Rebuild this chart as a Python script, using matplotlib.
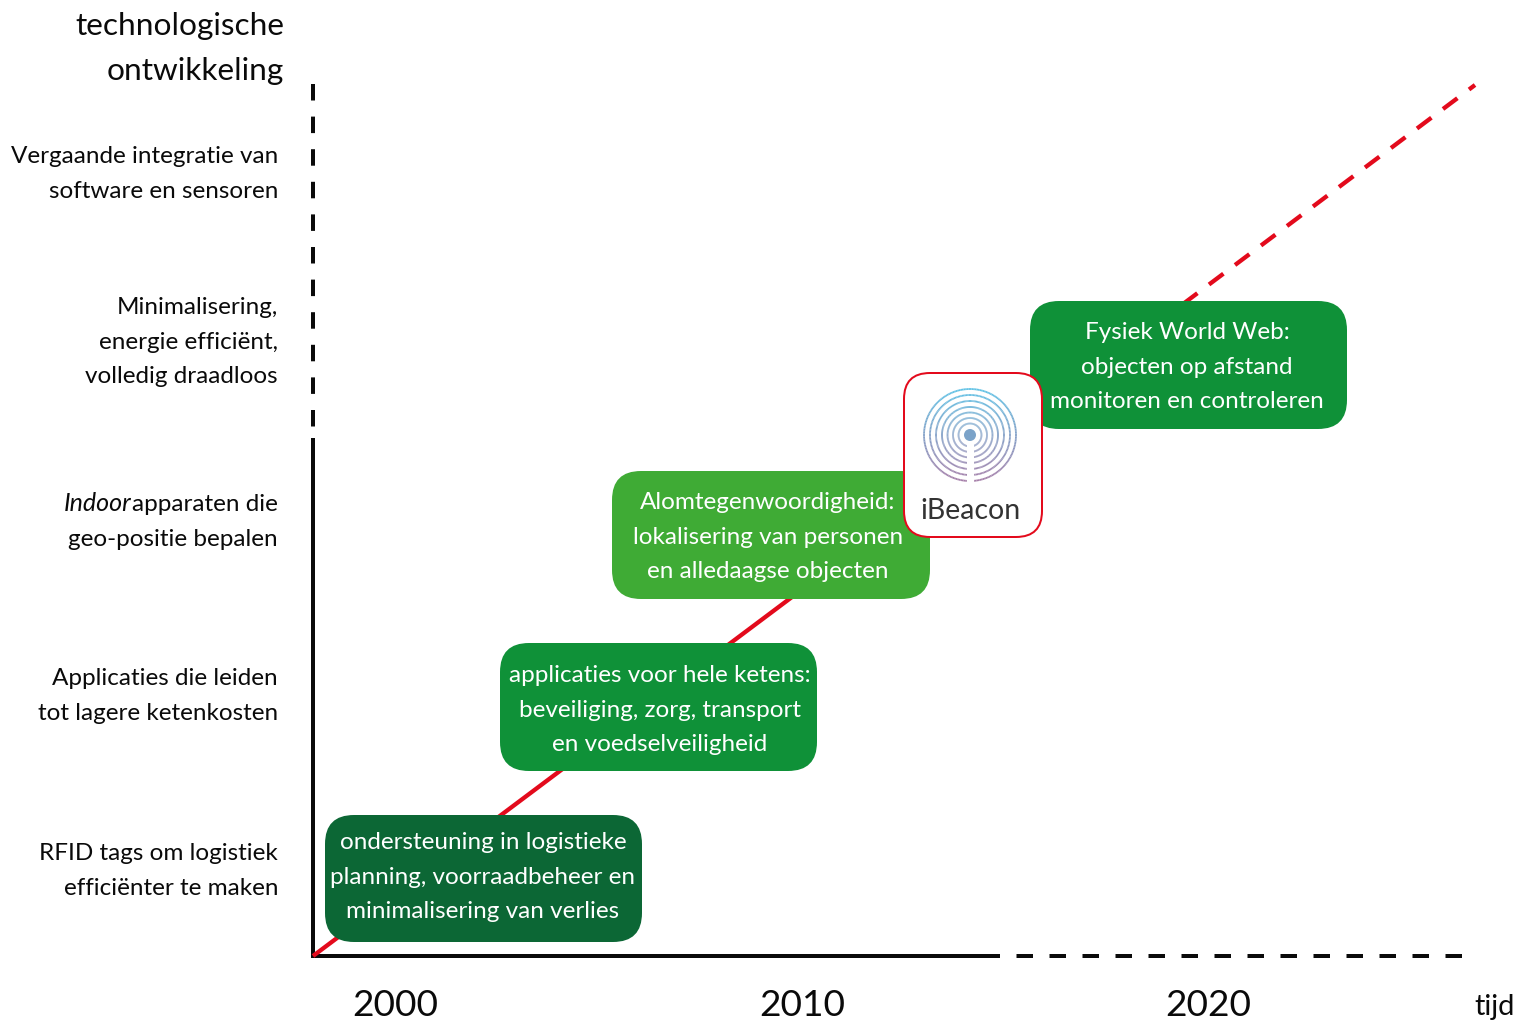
"""
Technologische ontwikkeling roadmap (RFID to Physical Web).
"""
import numpy as np
import matplotlib
matplotlib.use('Agg')
import matplotlib.pyplot as plt
from matplotlib.collections import LineCollection
from matplotlib.colors import to_rgb
from matplotlib.patches import Circle, FancyBboxPatch, Rectangle

plt.rcParams['font.family'] = ['Lato', 'DejaVu Sans']
plt.rcParams['lines.scale_dashes'] = False

W, H = 1519, 1021
PX = 0.72  # points per pixel at dpi 100

# left hand labels, right aligned: first baseline and lines
level_baselines = [163, 314, 511, 685, 860]
level_labels = [
    ['Vergaande integratie van', 'software en sensoren'],
    ['Minimalisering,', 'energie efficiënt,', 'volledig draadloos'],
    ['apparaten die', 'geo-positie bepalen'],
    ['Applicaties die leiden', 'tot lagere ketenkosten'],
    ['RFID tags om logistiek', 'efficiënter te maken'],
]

# green boxes: left, top, right, bottom
box_edges = [
    (325, 815, 642, 942),
    (500, 643, 817, 771),
    (612, 471, 930, 599),
    (1030, 301, 1347, 429),
]
box_colors = ['#0c6735', '#0f9138', '#3fab35', '#0f9138']
box_texts = [
    ['ondersteuning in logistieke', 'planning, voorraadbeheer en', 'minimalisering van verlies'],
    ['applicaties voor hele ketens:', 'beveiliging, zorg, transport', 'en voedselveiligheid'],
    ['Alomtegenwoordigheid:', 'lokalisering van personen', 'en alledaagse objecten'],
    ['Fysiek World Web:', 'objecten op afstand', 'monitoren en controleren'],
]
box_text_x = [483, 660, 768, 1187]
box_text_base = [849, 682, 509, 339]

years = ['2000', '2010', '2020']
year_x = [395, 802, 1208]

# axes and trend line, in picture pixels
origin = (313, 956)
y_solid_end, y_dash_end = 438, 84
x_solid_end, x_dash_end = 990, 1462
trend_solid_end = (800, 591)
trend_start_dash = (1183, 304)
trend_end = (1475, 85)

ring_radii = [46, 40, 34, 28, 22.5, 17, 11.5]

fig = plt.figure(figsize=(W / 100, H / 100), dpi=100)
ax = fig.add_axes([0, 0, 1, 1])
ax.set_xlim(0, W)
ax.set_ylim(H, 0)
ax.axis('off')

BLACK = '#0a0a0a'
RED = '#e30a1c'

# axes, dashed parts drawn from their outer end so they start on a dash
ax.plot([origin[0], origin[0]], [origin[1] + 2, y_solid_end], color=BLACK, lw=4 * PX, solid_capstyle='butt')
ax.plot([origin[0], origin[0]], [y_dash_end, y_solid_end], color=BLACK, lw=4 * PX,
        linestyle=(0, (16.5 * PX, 16.1 * PX)), dash_capstyle='butt')
ax.plot([origin[0], x_solid_end], [origin[1], origin[1]], color=BLACK, lw=4 * PX, solid_capstyle='butt')
ax.plot([x_dash_end, x_solid_end], [origin[1], origin[1]], color=BLACK, lw=4 * PX,
        linestyle=(0, (16.5 * PX, 16.5 * PX)), dash_capstyle='butt')

# trend line
ax.plot([origin[0], trend_solid_end[0]], [origin[1], trend_solid_end[1]], color=RED, lw=4.3 * PX,
        solid_capstyle='butt')
ax.plot([trend_start_dash[0], trend_end[0]], [trend_start_dash[1], trend_end[1]], color=RED, lw=4.3 * PX,
        linestyle=(0, (18 * PX, 14.5 * PX)), dash_capstyle='butt')

# green boxes
for (x0, y0, x1, y1), color, lines, tx, tb in zip(box_edges, box_colors, box_texts, box_text_x, box_text_base):
    ax.add_patch(FancyBboxPatch((x0, y0), x1 - x0, y1 - y0, boxstyle='round,pad=0,rounding_size=29',
                                fc=color, ec='none', zorder=3))
    for i, line in enumerate(lines):
        ax.text(tx, tb + i * 34.5, line, color='white', fontsize=24.2 * PX,
                ha='center', va='baseline', zorder=4)

# iBeacon tile
ax.add_patch(FancyBboxPatch((904, 373), 138, 164, boxstyle='round,pad=0,rounding_size=26',
                            fc='white', ec=RED, lw=2 * PX, zorder=5))
cx, cy = 970, 435
top_col = np.array(to_rgb('#62c3e6'))
bot_col = np.array(to_rgb('#a67fa9'))
for r in ring_radii:
    t = np.linspace(0, 2 * np.pi, 181)
    xs, ys = cx + r * np.cos(t), cy + r * np.sin(t)
    pts = np.column_stack([xs, ys])
    segs = np.stack([pts[:-1], pts[1:]], axis=1)
    frac = (segs[:, :, 1].mean(axis=1) - (cy - 46)) / 92
    cols = top_col + (bot_col - top_col) * frac[:, None]
    ax.add_collection(LineCollection(segs, colors=cols, linewidths=1.8 * PX, zorder=6))
ax.add_patch(Rectangle((cx - 3.5, cy + 5), 7, 44, fc='white', ec='none', zorder=7))
ax.add_patch(Circle((cx, cy), 6, fc='#7ba3c9', ec='none', zorder=8))
ax.text(970, 519, 'iBeacon', color='#333333', fontsize=28.5 * PX,
        ha='center', va='baseline', zorder=8)

# labels on the left
for base, lines in zip(level_baselines, level_labels):
    for i, line in enumerate(lines):
        ax.text(278, base + i * 34.5, line, color=BLACK, fontsize=24.2 * PX,
                ha='right', va='baseline')
ax.text(131, level_baselines[2], 'Indoor', color=BLACK, fontsize=25 * PX, fontstyle='italic',
        ha='right', va='baseline')

# axis titles
ax.text(284, 35, 'technologische', color=BLACK, fontsize=31.5 * PX, ha='right', va='baseline')
ax.text(284, 80, 'ontwikkeling', color=BLACK, fontsize=31.5 * PX, ha='right', va='baseline')
for x, year in zip(year_x, years):
    ax.text(x, 1016, year, color=BLACK, fontsize=37 * PX, ha='center', va='baseline')
ax.text(1495, 1015, 'tijd', color=BLACK, fontsize=29 * PX, ha='center', va='baseline')

fig.savefig('out.png', dpi=100, facecolor='white')
